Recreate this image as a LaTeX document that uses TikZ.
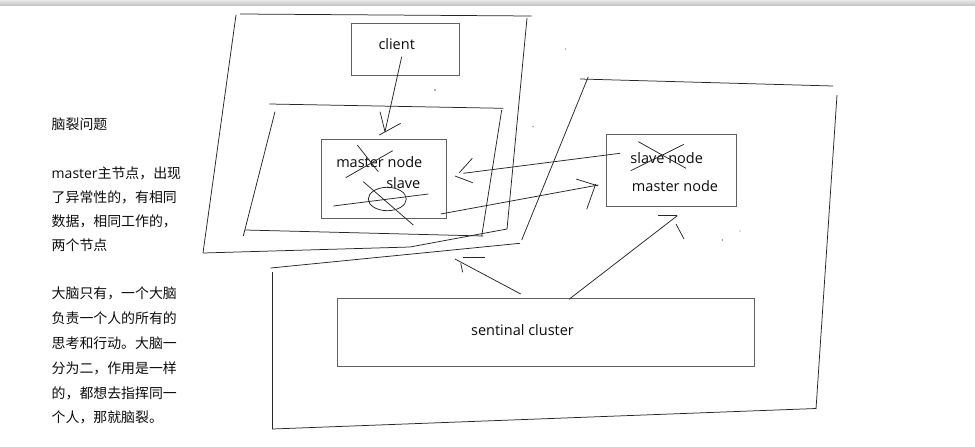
\documentclass[tikz,border=0pt]{standalone}
\usepackage{fontspec}
\setmainfont{Open Sans}
\newfontfamily\cjk{Noto Sans CJK SC}
\begin{document}
\begin{tikzpicture}[x=1pt,y=-1pt,
  sketch/.style={draw=black!85,line width=0.75pt},
  boxline/.style={draw=black!62,line width=0.9pt},
  label/.style={font=\fontsize{14.5}{17}\selectfont,text=black!95,inner sep=0pt},
  note/.style={font=\cjk\fontsize{13.9}{17}\selectfont,text=black!95,anchor=base west,inner sep=0pt},
  speck/.style={fill=black!60}]
\useasboundingbox (0,0) rectangle (975,447);
\fill[white] (0,0) rectangle (975,447);
\shade[top color=gray!18,bottom color=gray!45] (0,0) rectangle (975,5);

% ---- side notes ----
\node[note] (t1)  at (51.5,129.3) {脑裂问题};
\node[note] (t2)  at (51.5,178.6) {{\fontspec{Open Sans}\fontsize{14}{17}\selectfont master}主节点，出现};
\node[note] (t3)  at (51.5,202.0) {了异常性的，有相同};
\node[note] (t4)  at (51.5,226.3) {数据，相同工作的，};
\node[note] (t5)  at (51.5,250.3) {两个节点};
\node[note] (t6)  at (51.5,298.6) {大脑只有，一个大脑};
\node[note] (t7)  at (51.5,323.6) {负责一个人的所有的};
\node[note] (t8)  at (51.5,348.6) {思考和行动。大脑一};
\node[note] (t9)  at (51.5,373.6) {分为二，作用是一样};
\node[note] (t10) at (51.5,398.0) {的，都想去指挥同一};
\node[note] (t11) at (51.5,422.0) {个人，那就脑裂。};

% ---- outer frame around the client side ----
\draw[sketch] (236,15) -- (203,253);
\draw[sketch] (240,14) -- (531.7,16);
\draw[sketch] (527,18) -- (507,229) -- (410,247) -- (203,253);

% ---- inner frame around the old master ----
\draw[sketch] (269.3,104) -- (503.3,108.3);
\draw[sketch] (275,111.7) -- (243.3,236);
\draw[sketch] (245,230) -- (483.3,236);
\draw[sketch] (501.7,110) -- (481.7,236);

% ---- frame around the sentinel side ----
\draw[sketch] (580,79) -- (833,86);
\draw[sketch] (588.3,76.7) -- (521.7,240);
\draw[sketch] (520,243.3) -- (270.7,268);
\draw[sketch] (272.5,272) -- (272.5,429) -- (816,408.5);
\draw[sketch] (837,95) -- (816,409);

% ---- client ----
\draw[boxline] (351.7,23.3) rectangle (459.3,75);
\node[label] (client) at (396.7,44.3) {client};
\coordinate (clTail) at (401.7,56.7);
\coordinate (clTip) at (385,131.7);
\draw[sketch] (clTail) -- (clTip);
\draw[sketch] (380,111.7) -- (clTip);
\draw[sketch] (400.7,123.3) -- (379.3,135);

% ---- old master box ----
\draw[boxline] (321.7,139.3) rectangle (446.7,218.7);
\node[label] (oldmaster) at (379.3,161.7) {master node};
\node[label] (oldslave) at (403.3,183.3) {slave};
\draw[sketch] (357.3,145) -- (378.3,171.7);
\draw[sketch] (392.7,150.7) -- (345.7,177.7);
\draw[sketch] (387.3,199) ellipse [x radius=19, y radius=11.7];
\draw[sketch] (333.3,206) -- (428.3,194);
\draw[sketch] (363.3,181.7) -- (413.3,225);

% ---- new master box ----
\draw[boxline] (606.7,134) rectangle (736.7,206);
\node[label] (newslave) at (666.7,158.5) {slave node};
\node[label] (newmaster) at (675,186) {master node};
\draw[sketch] (638.3,141.7) -- (686,168.3);
\draw[sketch] (684,144.3) -- (630.7,170.7);

% ---- links between the two masters ----
\coordinate (lrTail) at (440.7,214);
\coordinate (lrTip) at (598.3,185);
\draw[sketch] (lrTail) -- (lrTip);
\draw[sketch] (576,179) -- (598.3,186);
\draw[sketch] (586.7,209.3) -- (595.7,184);

\coordinate (rlTail) at (620,153.3);
\coordinate (rlTip) at (463.3,173.3);
\draw[sketch] (rlTail) -- (rlTip);
\draw[sketch] (472.3,158.3) -- (459.3,172.7);
\draw[sketch] (455,176) -- (472.7,182.7);

% ---- sentinel cluster ----
\draw[boxline] (337.5,298) rectangle (754,366);
\node[label] (sentinel) at (522.5,330) {sentinal cluster};

\coordinate (snTailR) at (569,299.3);
\coordinate (snTipR) at (677.3,215.7);
\draw[sketch] (snTailR) -- (snTipR);
\draw[sketch] (658.3,215.7) -- (676.7,215.7);
\draw[sketch] (676,224) -- (684,239);

\coordinate (snTailL) at (520.7,294);
\coordinate (snTipL) at (455,259);
\draw[sketch] (snTailL) -- (snTipL);
\draw[sketch] (460.7,263.3) -- (462.7,272.3);
\draw[sketch] (463.3,257.7) -- (485,257.7);

% ---- stray pen specks ----
\fill[speck] (435,90) circle (0.8);
\fill[speck] (565.7,49) circle (0.7);
\fill[speck] (533,126.7) circle (0.7);
\fill[speck] (740,231) circle (0.7);
\fill[speck] (722.3,240) circle (0.7);
\end{tikzpicture}
\end{document}
